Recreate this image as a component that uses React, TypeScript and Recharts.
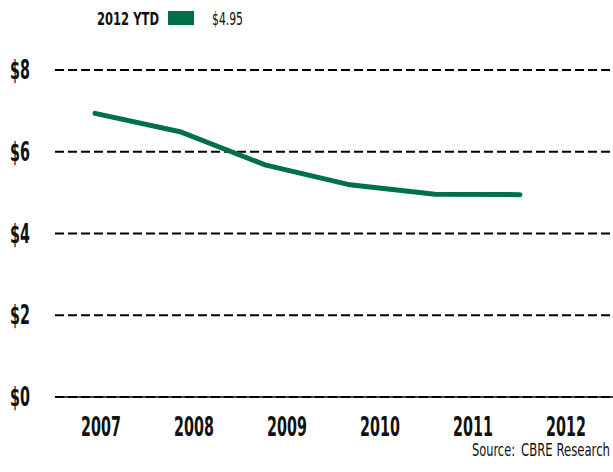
import { LineChart, Line, XAxis, YAxis, CartesianGrid } from "recharts";

/* ── Data ─────────────────────────────── */
const YEARS = ["2007", "2008", "2009", "2010", "2011", "2012"];
const RENT = [6.94, 6.49, 5.68, 5.19, 4.96, 4.95];
const Y_TICKS = [0, 2, 4, 6, 8];

const data = YEARS.map((year, i) => ({ year, rent: RENT[i] }));

const FONT = "'DejaVu Sans', sans-serif";
const GREEN = "#00704A";
const SQUEEZE = 0.53;

// condensed look: DejaVu squeezed horizontally
const XTick = ({ x, y, payload }: any) => (
  <g transform={`translate(${x},${y}) scale(${SQUEEZE},1)`}>
    <text textAnchor="middle" fontFamily={FONT} fontSize={27} fontWeight={700} fill="#111">
      {payload.value}
    </text>
  </g>
);

const YTick = ({ x, y, payload }: any) => (
  <g transform={`translate(${x},${y + 9}) scale(${SQUEEZE},1)`}>
    <text textAnchor="end" fontFamily={FONT} fontSize={27} fontWeight={700} fill="#111">
      ${payload.value}
    </text>
  </g>
);

export default function App() {
  return (
    <div style={{ position: "absolute", left: 0, top: 0, width: 613, height: 472, background: "#fff" }}>
      <LineChart width={613} height={472} data={data} margin={{ top: 70, right: 0, bottom: 15, left: 0 }}>
        <CartesianGrid vertical={false} xAxisId="lbl" stroke="#000" strokeWidth={2} strokeDasharray="9 4" />
        <XAxis
          xAxisId="lbl"
          dataKey="year"
          height={60}
          padding={{ left: 46, right: 47 }}
          tickLine={false}
          tickSize={0}
          tickMargin={39}
          axisLine={{ stroke: "#000", strokeWidth: 1.5 }}
          tick={<XTick />}
        />
        <XAxis xAxisId="pts" dataKey="year" hide padding={{ left: 40, right: 93 }} />
        <YAxis
          domain={[0, 8]}
          ticks={Y_TICKS}
          width={55}
          axisLine={false}
          tickLine={false}
          tickSize={0}
          tickMargin={25}
          tick={<YTick />}
        />
        <Line
          xAxisId="pts"
          type="linear"
          dataKey="rent"
          stroke={GREEN}
          strokeWidth={5}
          strokeLinecap="round"
          dot={false}
          activeDot={false}
          isAnimationActive={false}
        />
      </LineChart>

      {/* legend + source */}
      <svg width={613} height={472} style={{ position: "absolute", left: 0, top: 0, pointerEvents: "none" }}>
        <text x={97} y={25} fontFamily={FONT} fontSize={18} fontWeight={700} fill="#111" textLength={62} lengthAdjust="spacingAndGlyphs">
          2012 YTD
        </text>
        <rect x={168} y={11} width={26} height={14} fill={GREEN} />
        <text x={212} y={25} fontFamily={FONT} fontSize={18} fill="#111" textLength={31} lengthAdjust="spacingAndGlyphs">
          $4.95
        </text>
        <text x={472} y={456} fontFamily={FONT} fontSize={17} fill="#111" textLength={43} lengthAdjust="spacingAndGlyphs">
          Source:
        </text>
        <text x={521} y={456} fontFamily={FONT} fontSize={17} fill="#111" textLength={89} lengthAdjust="spacingAndGlyphs">
          CBRE Research
        </text>
      </svg>
    </div>
  );
}
